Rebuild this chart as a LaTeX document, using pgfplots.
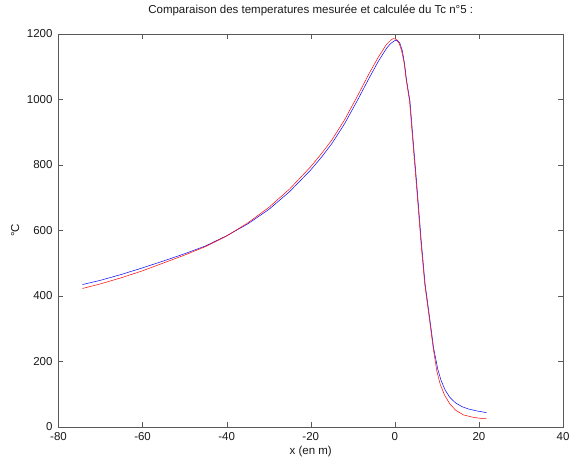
\documentclass[border=0pt]{standalone}
\usepackage{fontspec}
\setmainfont{Liberation Sans}
\usepackage{pgfplots}
\pgfplotsset{compat=1.18}
\begin{document}
\begin{tikzpicture}
\path[use as bounding box] (-58.5bp,-30bp) rectangle (514.5bp,427bp);
\begin{axis}[
  at={(0,0)}, anchor=south west,
  scale only axis, width=504.5bp, height=393bp,
  xmin=-80, xmax=40, ymin=0, ymax=1200,
  xtick={-80,-60,...,40}, ytick={0,200,...,1200},
  tick align=inside, tick pos=both, major tick length=5bp,
  axis line style={black!65}, tick style={black!65},
  /pgf/number format/assume math mode=true,
  /pgf/number format/1000 sep={},
  ticklabel style={font=\fontsize{11.5bp}{13bp}\selectfont, text=black!90},
  yticklabel style={xshift=-2.5bp},
  xticklabel style={yshift=-1.5bp},
  title={Comparaison des temperatures mesurée et calculée du Tc n°5 :},
  title style={at={(axis description cs:0.5,1.045)}, anchor=center, font=\fontsize{11.5bp}{13bp}\selectfont, text=black!90},
  xlabel={x (en m)},
  xlabel style={at={(axis description cs:0.5,-0.0636)}, anchor=center, font=\fontsize{11.5bp}{13bp}\selectfont, text=black!90},
  ylabel={°C},
  ylabel style={at={(axis description cs:-0.086,0.5)}, anchor=center, font=\fontsize{11.5bp}{13bp}\selectfont, text=black!90},
]
\addplot[blue, line width=0.5pt] coordinates {
(-74.3,435) (-70,448) (-65,466) (-60,486) (-55,507) (-50,529) (-45,553) (-40,584) (-35,620)
(-30,664) (-25,719) (-20,785) (-17.5,823) (-15,865) (-12,925) (-9,995) (-6,1068) (-4,1115)
(-2,1156) (-1,1171) (0,1180) (0.6,1181)
(1.2,1172) (1.8,1148) (2.3,1110) (2.8,1058) (3.6,995) (4.4,868) (5.2,744) (6.3,565) (7.2,437) (8.4,322)
(9.2,243) (10.2,177) (11,142) (12,112) (13.1,90) (14.5,73) (16,62) (17.5,55) (19.5,49) (21.8,44)
};
\addplot[red, line width=0.5pt] coordinates {
(-74.3,423) (-70,437) (-65,456) (-60,477) (-55,501) (-50,525) (-45,551) (-40,583) (-35,623)
(-30,670) (-25,727) (-20,795) (-17.5,834) (-15,876) (-12,937) (-9,1008) (-6,1082) (-4,1128)
(-2,1168) (-1,1181) (-0.4,1186) (0.3,1184)
(1,1172) (1.6,1150) (2.2,1112) (2.7,1060) (3.5,995) (4.3,868) (5.1,744) (6.2,565) (7.1,437) (8.3,322)
(9.1,243) (10,170) (10.8,130) (11.8,98) (13.1,70) (14.5,51) (16.3,37) (18.5,30) (20,27) (21.8,25)
};
\end{axis}
\end{tikzpicture}
\end{document}
